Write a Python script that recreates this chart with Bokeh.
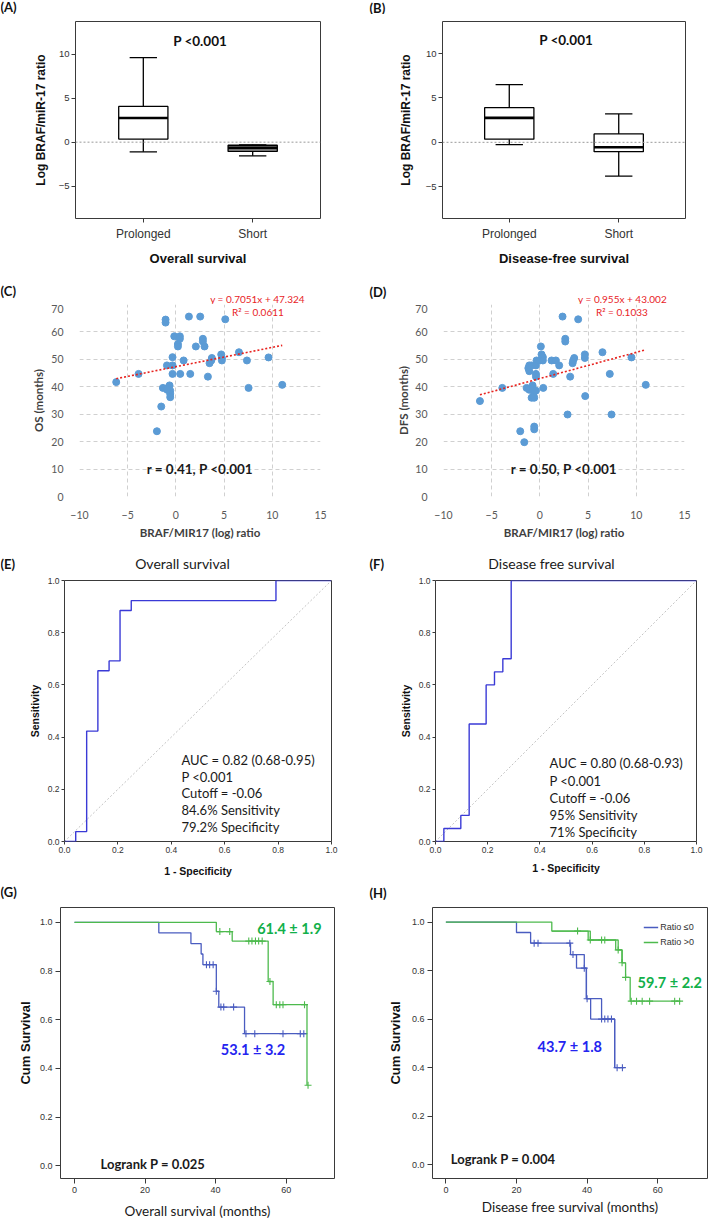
from bokeh.plotting import figure
from bokeh.layouts import column, row
from bokeh.models import (Range1d, FixedTicker, Label, Span, Legend, LegendItem,
                          PrintfTickFormatter, ColumnDataSource)
from bokeh.embed import file_html
from bokeh.resources import INLINE

ARIAL = "Liberation Sans"
CAL = "Lato"

# ---------------- DATA ----------------
box_groups = ["Prolonged", "Short"]
box_pos = [1, 2]
# (A) overall survival box plot
a_lo = [-1.1, -1.55]
a_q1 = [0.35, -1.05]
a_med = [2.75, -0.65]
a_q3 = [4.05, -0.35]
a_hi = [9.6, -0.3]
# (B) disease-free survival box plot
b_lo = [-0.25, -3.8]
b_q1 = [0.35, -1.05]
b_med = [2.75, -0.55]
b_q3 = [3.9, 0.95]
b_hi = [6.5, 3.2]
p_text_ab = "P <0.001"

# (C) scatter OS vs ratio
c_x = [-6.19, -3.87, -1.97, -1.52, -1.35, -1.07, -1.07, -0.93, -0.83, -0.66, -0.59, -0.59,
       -0.59, -0.9, -0.35, -0.35, -0.35, -0.17, 0.21, 0.21, 0.41, 0.41, 0.45, 0.8, 1.35,
       1.49, 2.07, 2.52, 2.8, 2.8, 2.97, 3.32, 3.49, 3.67, 3.73, 4.7, 4.77, 4.77, 5.12,
       6.54, 7.37, 7.54, 9.61, 11.03]
c_y = [41.7, 44.7, 23.8, 32.8, 39.6, 64.5, 63.4, 47.8, 39.6, 40.5, 38.6, 37.4,
       36.2, 38.9, 50.8, 47.8, 44.7, 58.4, 55.6, 54.7, 58.4, 57.5, 44.7, 49.6, 65.6,
       44.7, 54.7, 65.6, 57.5, 56.5, 54.7, 43.7, 48.6, 49.6, 50.5, 51.8, 50.5, 49.6, 64.6,
       52.6, 49.6, 39.6, 50.7, 40.7]
c_slope, c_intercept, c_r2 = 0.7051, 47.324, 0.0611
c_r_text = "r = 0.41, P <0.001"
# (D) scatter DFS vs ratio
d_x = [-6.22, -3.9, -2.04, -1.62, -1.38, -1.1, -1.1, -1.2, -1.1, -0.86, -0.76, -0.76,
       -0.86, -0.59, -0.66, -0.59, -0.59, -0.41, -0.41, -0.41, -0.35, -0.41, 0.0, 0.1,
       0.17, 0.31, 0.31, 0.35, 1.21, 1.38, 1.66, 2.0, 2.35, 2.63, 2.63, 3.14, 2.87, 3.39,
       3.45, 3.56, 3.97, 4.66, 4.66, 4.7, 6.49, 7.25, 7.43, 9.5, 10.98]
d_y = [34.8, 39.6, 23.8, 19.8, 39.6, 38.9, 47.8, 46.8, 45.7, 47.8, 40.5, 39.6,
       36.0, 36.0, 36.8, 25.5, 24.5, 38.6, 44.7, 43.7, 49.6, 47.8, 49.6, 54.7,
       51.8, 50.8, 49.6, 39.6, 49.6, 44.7, 49.6, 47.8, 65.6, 57.5, 56.5, 43.7, 29.9, 48.6,
       49.6, 50.5, 64.6, 51.8, 50.5, 36.6, 52.6, 44.7, 29.9, 50.7, 40.7]
d_slope, d_intercept, d_r2 = 0.955, 43.002, 0.1033
d_r_text = "r = 0.50, P <0.001"

# (E) ROC overall survival
e_fpr = [0.0, 0.042, 0.083, 0.125, 0.167, 0.208, 0.25, 0.792, 1.0]
e_tpr = [0.0, 0.038, 0.423, 0.654, 0.692, 0.885, 0.923, 1.0, 1.0]
e_lines = ["AUC =  0.82 (0.68-0.95)", "P <0.001", "Cutoff = -0.06",
           "84.6% Sensitivity", "79.2% Specificity"]
# (F) ROC disease free survival
f_fpr = [0.0, 0.032, 0.097, 0.129, 0.194, 0.226, 0.258, 0.29, 1.0]
f_tpr = [0.0, 0.05, 0.1, 0.45, 0.6, 0.65, 0.7, 1.0, 1.0]
f_lines = ["AUC =  0.80 (0.68-0.93)", "P <0.001", "Cutoff = -0.06",
           "95% Sensitivity", "71% Specificity"]
diag = [0.0, 1.0]

# (G) Kaplan-Meier overall survival
g_blue_t = [0, 23.9, 33.0, 35.9, 36.4, 40.2, 40.9, 48.2, 65.9]
g_blue_s = [1.0, 0.957, 0.913, 0.870, 0.826, 0.717, 0.652, 0.543, 0.543]
g_blue_ct = [37.4, 38.3, 39.3, 40.2, 41.5, 42.3, 45.1, 48.6, 51.1, 59.1, 64.0, 65.0]
g_blue_cs = [0.826, 0.826, 0.826, 0.717, 0.652, 0.652, 0.652, 0.543, 0.543, 0.543, 0.543, 0.543]
g_green_t = [0, 40.2, 44.7, 54.9, 56.3, 65.9]
g_green_s = [1.0, 0.962, 0.923, 0.757, 0.662, 0.331]
g_green_ct = [41.2, 44.0, 49.4, 50.3, 51.3, 52.2, 53.2, 55.4, 57.2, 58.2, 59.1, 65.2, 66.2]
g_green_cs = [0.962, 0.962, 0.923, 0.923, 0.923, 0.923, 0.923, 0.757, 0.662, 0.662, 0.662, 0.662, 0.331]
g_green_txt, g_blue_txt, g_logrank = "61.4 ± 1.9", "53.1 ± 3.2", "Logrank P = 0.025"

# (H) Kaplan-Meier disease free survival
h_blue_t = [0, 20.0, 24.0, 35.3, 37.0, 39.8, 41.0, 47.8, 50.5]
h_blue_s = [1.0, 0.957, 0.913, 0.866, 0.81, 0.684, 0.6, 0.4, 0.4]
h_blue_alt_t = [35.3, 39.2, 39.8, 44.1, 47.8]
h_blue_alt_s = [0.866, 0.81, 0.684, 0.6, 0.4]
h_blue_ct = [25.0, 26.1, 35.1, 36.0, 39.2, 40.0, 44.1, 45.0, 45.9, 46.9, 48.5, 50.0]
h_blue_cs = [0.913, 0.913, 0.913, 0.866, 0.81, 0.684, 0.6, 0.6, 0.6, 0.6, 0.4, 0.4]
h_green_t = [0, 30.0, 40.3, 48.1, 49.9, 50.9, 52.2, 66.4]
h_green_s = [1.0, 0.963, 0.926, 0.885, 0.832, 0.772, 0.674, 0.674]
h_green_alt_t = [30.0, 40.9, 48.8, 49.9]
h_green_alt_s = [0.963, 0.926, 0.885, 0.832]
h_green_ct = [37.3, 40.9, 44.1, 45.0, 48.8, 49.9, 50.9, 52.5, 54.0, 55.6, 57.7, 64.8, 66.2]
h_green_cs = [0.963, 0.926, 0.926, 0.926, 0.885, 0.832, 0.772, 0.674, 0.674, 0.674, 0.674, 0.674, 0.674]
h_green_txt, h_blue_txt, h_logrank = "59.7 ± 2.2", "43.7 ± 1.8", "Logrank P = 0.004"
legend_labels = ["Ratio ≤0", "Ratio >0"]

panel_tags = ["(A)", "(B)", "(C)", "(D)", "(E)", "(F)", "(G)", "(H)"]
roc_titles = ["Overall survival", "Disease free survival"]

KM_BLUE = "#4A5CC0"
KM_GREEN = "#4DBA4D"
TXT_BLUE = "#2424F0"
TXT_GREEN = "#12B04A"
ROC_BLUE = "#3A3AD6"
DOT_BLUE = "#5B9BD5"
RED = "#E8231F"


# ---------------- helpers ----------------
def make_fig(w, h, bl, br, bt, bb, xr, yr):
    p = figure(width=w, height=h, x_range=Range1d(*xr), y_range=Range1d(*yr),
               output_backend="svg", toolbar_location=None,
               min_border_left=bl, min_border_right=br, min_border_top=bt,
               min_border_bottom=bb)
    p.background_fill_color = "white"
    p.border_fill_color = "white"
    p.xgrid.visible = False
    p.ygrid.visible = False
    return p


def strip(w, h, items):
    s = figure(width=w, height=h, x_range=Range1d(0, w), y_range=Range1d(h, 0),
               output_backend="svg", toolbar_location=None, x_axis_type=None,
               y_axis_type=None, min_border=0, min_border_left=0, min_border_right=0,
               min_border_top=0, min_border_bottom=0)
    s.outline_line_color = None
    s.xgrid.visible = False
    s.ygrid.visible = False
    s.background_fill_color = "white"
    s.border_fill_color = "white"
    for (txt, x, y, font, style, size, color, align) in items:
        s.add_layout(Label(x=x, y=y, text=txt, text_font=font, text_font_style=style,
                           text_font_size=size, text_color=color, text_align=align,
                           text_baseline="middle"))
    return s


def tag(txt, x, y):
    return (txt, x, y, CAL, "bold", "13px", "#111111", "left")


def spss_axes(p, xlabel, ylabel, tick_fs, xlab_fs, ylab_fs, xlab_font=ARIAL,
              xlab_style="bold", tick_out=4, xstand=8, ystand=6, xls=2, yls=2):
    p.outline_line_color = "#3a3a3a"
    p.outline_line_width = 1
    for ax in (p.xaxis[0], p.yaxis[0]):
        ax.axis_line_color = None
        ax.major_tick_line_color = "#3a3a3a"
        ax.major_tick_in = 0
        ax.major_tick_out = tick_out
        ax.minor_tick_line_color = None
        ax.major_label_text_font = ARIAL
        ax.major_label_text_font_size = tick_fs
        ax.major_label_text_color = "#333333"
        ax.axis_label_text_color = "#111111"
    p.xaxis[0].major_label_standoff = xls
    p.yaxis[0].major_label_standoff = yls
    p.xaxis[0].axis_label = xlabel
    p.xaxis[0].axis_label_text_font = xlab_font
    p.xaxis[0].axis_label_text_font_style = xlab_style
    p.xaxis[0].axis_label_text_font_size = xlab_fs
    p.xaxis[0].axis_label_standoff = xstand
    p.yaxis[0].axis_label = ylabel
    p.yaxis[0].axis_label_text_font = ARIAL
    p.yaxis[0].axis_label_text_font_style = "bold"
    p.yaxis[0].axis_label_text_font_size = ylab_fs
    p.yaxis[0].axis_label_standoff = ystand


def draw_box(p, lo, q1, med, q3, hi, fills, width=0.45, cap=0.25):
    src = ColumnDataSource(dict(
        x=box_pos, lo=lo, q1=q1, med=med, q3=q3, hi=hi, fill=fills,
        xl=[x - width / 2 for x in box_pos], xr=[x + width / 2 for x in box_pos],
        cl=[x - cap / 2 for x in box_pos], cr=[x + cap / 2 for x in box_pos]))
    kw = dict(source=src, line_color="black", line_width=1.3)
    p.segment(x0="x", y0="q3", x1="x", y1="hi", **kw)
    p.segment(x0="x", y0="lo", x1="x", y1="q1", **kw)
    p.segment(x0="cl", y0="hi", x1="cr", y1="hi", **kw)
    p.segment(x0="cl", y0="lo", x1="cr", y1="lo", **kw)
    p.vbar(x="x", width=width, bottom="q1", top="q3", fill_color="fill", **kw)
    p.segment(x0="xl", y0="med", x1="xr", y1="med", source=src, line_color="black",
              line_width=2.6)


def box_panel(w, bl, br, bt, bb, xr, yr, lo, q1, med, q3, hi, fills, xlabel, ystand):
    p = make_fig(w, 269, bl, br, bt, bb, xr, yr)
    spss_axes(p, xlabel, "Log BRAF/miR-17 ratio", "9.5px", "13px", "12px",
              xstand=7, ystand=ystand, xls=4, yls=2)
    p.xaxis[0].ticker = FixedTicker(ticks=box_pos)
    p.xaxis[0].major_label_overrides = {b: g for b, g in zip(box_pos, box_groups)}
    p.xaxis[0].major_label_text_font_size = "12px"
    p.yaxis[0].ticker = FixedTicker(ticks=[-5, 0, 5, 10])
    p.add_layout(Span(location=0, dimension="width", line_color="#9a9a9a",
                      line_dash="2 2", line_width=1))
    draw_box(p, lo, q1, med, q3, hi, fills)
    p.add_layout(Label(x=1.52, y=11.5, text=p_text_ab, text_font=CAL,
                       text_font_style="bold", text_font_size="13.5px",
                       text_align="center", text_baseline="middle", text_color="#111111"))
    return p


def scatter_panel(w, bl, br, xs, ys, slope, icpt, r2, rtext, ylabel, ystand):
    p = make_fig(w, 251, bl, br, 0, 59, (-10, 15), (0, 70))
    p.outline_line_color = None
    for ax in (p.xaxis[0], p.yaxis[0]):
        ax.axis_line_color = None
        ax.major_tick_line_color = None
        ax.minor_tick_line_color = None
        ax.major_label_text_font = CAL
        ax.major_label_text_font_size = "10.5px"
        ax.major_label_text_color = "#595959"
        ax.axis_label_text_font = CAL
        ax.axis_label_text_font_style = "bold"
        ax.axis_label_text_font_size = "11.5px"
        ax.axis_label_text_color = "#3f3f3f"
    p.xaxis[0].major_label_standoff = 8
    p.yaxis[0].major_label_standoff = 10
    p.xaxis[0].ticker = FixedTicker(ticks=[-10, -5, 0, 5, 10, 15])
    p.yaxis[0].ticker = FixedTicker(ticks=[0, 10, 20, 30, 40, 50, 60, 70])
    p.xaxis[0].axis_label = "BRAF/MIR17 (log) ratio"
    p.yaxis[0].axis_label = ylabel
    p.xaxis[0].axis_label_standoff = 4
    p.yaxis[0].axis_label_standoff = ystand
    for g in (p.xgrid, p.ygrid):
        g.visible = True
        g.grid_line_color = "#d0d0d0"
        g.grid_line_dash = "4 3"
        g.grid_line_width = 1
    p.scatter(xs, ys, size=7, marker="circle", fill_color=DOT_BLUE, line_color=DOT_BLUE)
    tx = [min(xs), max(xs)]
    p.line(tx, [slope * v + icpt for v in tx], line_color=RED, line_dash="2 2",
           line_width=1.6)
    p.add_layout(Label(x=8.5, y=67.1, text=f"R² = {r2}", text_font=CAL,
                       text_font_size="10px", text_color=RED, text_align="center",
                       text_baseline="middle"))
    p.add_layout(Label(x=2.5, y=10.2, text=rtext, text_font=CAL, text_font_style="bold",
                       text_font_size="13.5px", text_color="#1a1a1a", text_align="center",
                       text_baseline="middle"))
    return p


def roc_panel(w, bl, br, bt, bb, fpr, tpr, lines, tx, ty, dy, xstand, ystand):
    p = make_fig(w, 308, bl, br, bt, bb, (0, 1), (0, 1))
    spss_axes(p, "1 - Specificity", "Sensitivity", "8.5px", "10.5px", "10.5px",
              tick_out=3, xstand=xstand, ystand=ystand, xls=2, yls=2)
    ticks = [0.0, 0.2, 0.4, 0.6, 0.8, 1.0]
    p.xaxis[0].ticker = FixedTicker(ticks=ticks)
    p.yaxis[0].ticker = FixedTicker(ticks=ticks)
    p.xaxis[0].formatter = PrintfTickFormatter(format="%.1f")
    p.yaxis[0].formatter = PrintfTickFormatter(format="%.1f")
    p.line(diag, diag, line_color="#c4c4c4", line_dash="2 2", line_width=1)
    p.step(fpr, tpr, mode="after", line_color=ROC_BLUE, line_width=1.4)
    for i, t in enumerate(lines):
        p.add_layout(Label(x=tx, y=ty - i * dy, text=t, text_font=CAL,
                           text_font_size="13px", text_color="#1a1a1a",
                           text_align="left", text_baseline="middle"))
    return p


def km_panel(w, bl, br, bt, bb, xlabel, xr, yr, curves, texts, logrank, xstand, ystand):
    p = make_fig(w, 321, bl, br, bt, bb, xr, yr)
    spss_axes(p, xlabel, "Cum Survival", "9px", "13.5px", "13px", xlab_font=CAL,
              xlab_style="normal", tick_out=5, xstand=xstand, ystand=ystand, xls=3, yls=3)
    p.xaxis[0].axis_label_text_color = "#1a1a1a"
    p.xaxis[0].ticker = FixedTicker(ticks=[0, 20, 40, 60])
    p.yaxis[0].ticker = FixedTicker(ticks=[0.0, 0.2, 0.4, 0.6, 0.8, 1.0])
    p.yaxis[0].formatter = PrintfTickFormatter(format="%.1f")
    rends = []
    for (t, s, ct, cs, col, extra) in curves:
        r = p.step(t, s, mode="after", line_color=col, line_width=1.3)
        rends.append(r)
        if extra is not None:
            p.step(extra[0], extra[1], mode="after", line_color=col, line_width=1.3)
        p.scatter(ct, cs, marker="cross", size=7, line_color=col, line_width=1.1)
    for (txt, x, y, col) in texts:
        p.add_layout(Label(x=x, y=y, text=txt, text_font=CAL, text_font_style="bold",
                           text_font_size="14.5px", text_color=col, text_align="center",
                           text_baseline="middle"))
    p.add_layout(Label(x=logrank[1], y=logrank[2], text=logrank[0], text_font=CAL,
                       text_font_style="bold", text_font_size="13px",
                       text_color="#1a1a1a", text_align="left", text_baseline="middle"))
    return p, rends


# ---------------- row 1 ----------------
s1 = strip(709, 14, [tag(panel_tags[0], 0, 6), tag(panel_tags[1], 369, 7)])
pa = box_panel(354, 75, 34, 6, 65, (0.38, 2.62), (-8.66, 13.69),
               a_lo, a_q1, a_med, a_q3, a_hi, ["white", "#9a9a9a"],
               "Overall survival", 8)
pb = box_panel(355, 88, 24, 7, 65, (0.39, 2.61), (-8.58, 13.61),
               b_lo, b_q1, b_med, b_q3, b_hi, ["white", "white"],
               "Disease-free survival", 10)

# ---------------- row 2 ----------------
eq_style = (CAL, "normal", "10px", RED, "center")
s2 = strip(709, 21, [tag(panel_tags[2], 0, 7), tag(panel_tags[3], 369, 8),
                     (f"y = {c_slope}x + {c_intercept}", 257, 15) + eq_style,
                     (f"y = {d_slope}x + {d_intercept}", 622, 15) + eq_style])
pc = scatter_panel(354, 79, 34, c_x, c_y, c_slope, c_intercept, c_r2, c_r_text,
                   "OS (months)", 3)
pd_ = scatter_panel(355, 89, 25, d_x, d_y, d_slope, d_intercept, d_r2, d_r_text,
                    "DFS (months)", 2)

# ---------------- row 3 ----------------
title_style = (CAL, "normal", "14px", "#1a1a1a", "center")
s3 = strip(709, 17, [tag(panel_tags[4], 0, 8), tag(panel_tags[5], 369, 8),
                     (roc_titles[0], 182, 7.5) + title_style,
                     (roc_titles[1], 551, 7.5) + title_style])
pe = roc_panel(354, 64, 23, 7, 35, e_fpr, e_tpr, e_lines, 0.438, 0.314, 0.065, 9, 4)
pf = roc_panel(355, 81, 13, 8, 39, f_fpr, f_tpr, f_lines, 0.437, 0.299, 0.066, 6, 4)

# ---------------- row 4 ----------------
s4 = strip(709, 20, [tag(panel_tags[6], 0, 11), tag(panel_tags[7], 369, 12)])
pg, _ = km_panel(354, 60, 20, 5, 43, "Overall survival (months)",
                 (-3.97, 73.7), (-0.052, 1.061),
                 [(g_blue_t, g_blue_s, g_blue_ct, g_blue_cs, KM_BLUE, None),
                  (g_green_t, g_green_s, g_green_ct, g_green_cs, KM_GREEN, None)],
                 [(g_green_txt, 60.9, 0.976, TXT_GREEN), (g_blue_txt, 50.6, 0.479, TXT_BLUE)],
                 (g_logrank, 7.4, 0.008), 7, 4)
ph, hr = km_panel(355, 78, 2, 7, 38, "Disease free survival (months)",
                  (-3.79, 74.1), (-0.057, 1.06),
                  [(h_blue_t, h_blue_s, h_blue_ct, h_blue_cs, KM_BLUE,
                    (h_blue_alt_t, h_blue_alt_s)),
                   (h_green_t, h_green_s, h_green_ct, h_green_cs, KM_GREEN,
                    (h_green_alt_t, h_green_alt_s))],
                  [(h_green_txt, 63.4, 0.751, TXT_GREEN), (h_blue_txt, 35.1, 0.489, TXT_BLUE)],
                  (h_logrank, 1.4, 0.024), 3, 6)
leg = Legend(items=[LegendItem(label=legend_labels[0], renderers=[hr[0]]),
                    LegendItem(label=legend_labels[1], renderers=[hr[1]])],
             location="top_right", border_line_color=None, background_fill_alpha=0,
             label_text_font=ARIAL, label_text_font_size="9px",
             label_text_color="#333333", glyph_width=15, glyph_height=10,
             label_height=13, spacing=2, padding=0, margin=13, label_standoff=2)
ph.add_layout(leg)

layout = column(s1, row(pa, pb), s2, row(pc, pd_), s3, row(pe, pf), s4, row(pg, ph))
open("out.html", "w").write(file_html(layout, INLINE))
